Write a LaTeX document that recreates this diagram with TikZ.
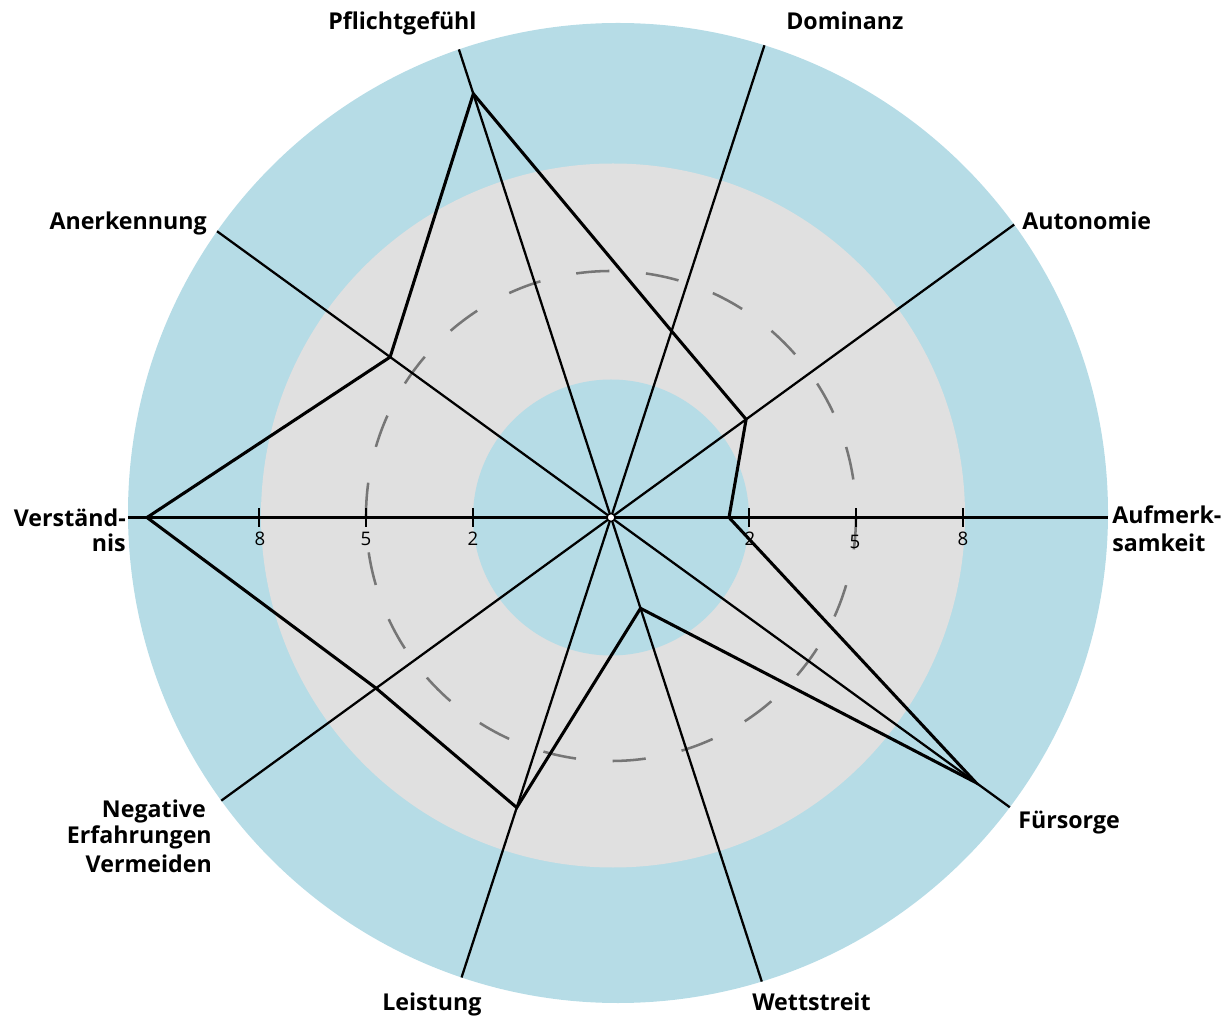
\documentclass[tikz,border=0pt]{standalone}
\usepackage{fontspec}
\setmainfont{Open Sans}
\definecolor{ringblue}{HTML}{B6DCE6}
\definecolor{ringgray}{HTML}{E0E0E0}
\definecolor{dashgray}{HTML}{767676}
\begin{document}
\begin{tikzpicture}[x=0.75pt,y=0.75pt,
  axisline/.style={line width=1.7pt,black},
  tickline/.style={line width=1.5pt,black},
  dataline/.style={line width=2.3pt,black},
  lbl/.style={font=\fontsize{17.4}{21}\selectfont\bfseries,inner sep=0pt},
  ticklbl/.style={font=\fontsize{14}{16}\selectfont,inner sep=0pt,anchor=base},
]
\useasboundingbox (0,0) rectangle (1221,1015);
\coordinate (C) at (611,497.5);
% rings
\fill[ringblue] (618,502) circle (367.5pt);
\fill[ringgray] (613,499.5) circle (264pt);
\fill[ringblue] (C) circle (103.5pt);
\draw[dashgray,line width=1.9pt,dash pattern=on 25pt off 27.48pt,dash phase=25pt] (611,499) circle (183.75pt);
% axes
\begin{scope}[shift={(C)}]
  \foreach \a in {0,36,...,324} \coordinate (e\a) at (\a:700);
  \coordinate (p0) at (0:118);
  \coordinate (p1) at (36:167);
  \coordinate (p2) at (72:196);
  \coordinate (p3) at (108:445.5);
  \coordinate (p4) at (144:273);
  \coordinate (p5) at (180:464);
  \coordinate (p6) at (216:290.4);
  \coordinate (p7) at (252:305);
  \coordinate (p8) at (288:95.5);
  \coordinate (p9) at (324:451);
\end{scope}
\begin{scope}
  \clip (618,502) circle (367.5pt);
  \foreach \a in {0,36,...,324} \draw[axisline] (C) -- (e\a);
\end{scope}
% ticks
\begin{scope}[shift={(C)}]
  \foreach \d in {-352,-245,-138,138,245,352} \draw[tickline] (\d,-9.5) -- (\d,9.5);
  \node[ticklbl] (l8) at (-351,-28) {8};
  \node[ticklbl] (l5) at (-245,-28) {5};
  \node[ticklbl] (l2) at (-138,-28) {2};
  \node[ticklbl] (r2) at (139,-28) {2};
  \node[ticklbl] (r5) at (244,-31) {5};
  \node[ticklbl] (r8) at (352,-28) {8};
\end{scope}
% data polygon
\draw[dataline] (p0) -- (p1) -- (p2) -- (p3) -- (p4) -- (p5) -- (p6) -- (p7) -- (p8) -- (p9) -- cycle;
% centre
\filldraw[fill=white,draw=black,line width=1.1pt] (C) circle (3pt);
% labels
\node[lbl,anchor=base west] (pf) at (328,985) {Pflichtgefühl};
\node[lbl,anchor=base west] (do) at (786,985) {Dominanz};
\node[lbl,anchor=base east] (an) at (207,785) {Anerkennung};
\node[lbl,anchor=base west] (au) at (1022,785) {Autonomie};
\node[lbl,anchor=base east] (ve1) at (126,488) {Verständ-};
\node[lbl,anchor=base east] (ve2) at (126,463) {nis};
\node[lbl,anchor=base west] (af1) at (1112,491) {Aufmerk-};
\node[lbl,anchor=base west] (af2) at (1112,463) {samkeit};
\node[lbl,anchor=base east] (ne1) at (206,198) {Negative};
\node[lbl,anchor=base east] (ne2) at (212,172) {Erfahrungen};
\node[lbl,anchor=base east] (ne3) at (212,143) {Vermeiden};
\node[lbl,anchor=base west] (fu) at (1018,187) {Fürsorge};
\node[lbl,anchor=base west] (le) at (382,5) {Leistung};
\node[lbl,anchor=base west] (we) at (752,5) {Wettstreit};
\end{tikzpicture}
\end{document}
